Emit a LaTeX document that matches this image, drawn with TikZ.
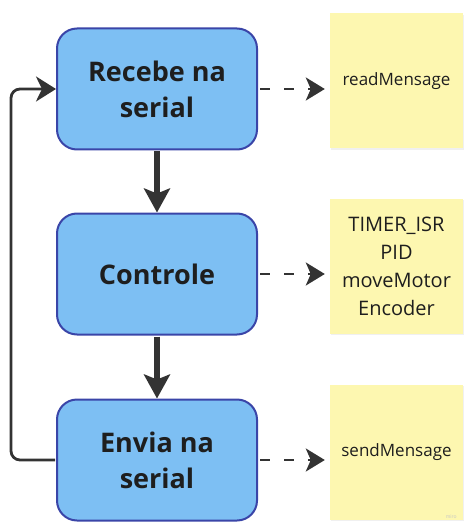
\documentclass[tikz,border=0pt]{standalone}
\usepackage{fontspec}
\setmainfont{Open Sans}
\usetikzlibrary{arrows.meta,shadows}
\definecolor{boxfill}{HTML}{7DBFF3}
\definecolor{boxdraw}{HTML}{3A45A8}
\definecolor{notefill}{HTML}{FDF7B0}
\definecolor{arrowc}{HTML}{333333}
\definecolor{txt}{HTML}{1E1E1E}
\begin{document}
\begin{tikzpicture}[x=1pt,y=-1pt,
  stepbox/.style={draw=boxdraw, fill=boxfill, line width=2pt, rounded corners=20pt,
    minimum width=200pt, minimum height=121pt, align=center, text=txt,
    font=\bfseries\fontsize{27}{36}\selectfont},
  note/.style={fill=notefill, minimum width=133pt, minimum height=135pt, align=center,
    text=txt, drop shadow={opacity=0.12, shadow xshift=0.8pt, shadow yshift=-1.2pt}},
  flow/.style={draw=arrowc, line width=5.5pt, -{Stealth[length=24pt,width=26pt,inset=5pt]}},
  dsh/.style={draw=arrowc, line width=2.8pt, dash pattern=on 10pt off 14pt,
    -{Stealth[length=19pt,width=23pt,inset=5pt]}},
  back/.style={draw=arrowc, line width=2.8pt, rounded corners=9pt,
    -{Stealth[length=20pt,width=25pt,inset=6pt]}}
]
\useasboundingbox (0,0) rectangle (472,529);
\node[stepbox] (b1) at (157,89) {Recebe na\\serial};
\node[stepbox] (b2) at (157,274) {Controle};
\node[stepbox] (b3) at (157,460) {Envia na\\serial};
\node[note, font=\fontsize{17}{24}\selectfont] (n1) at (396.5,81) {readMensage};
\node[note, font=\fontsize{20}{28}\selectfont] (n2) at (396.5,266.5) {TIMER\_ISR\\PID\\moveMotor\\Encoder};
\node[note, font=\fontsize{17}{24}\selectfont] (n3) at (396.5,452.5) {sendMensage};
\node[text=gray!45, font=\fontsize{5}{6}\selectfont, anchor=south east] (wm) at ([xshift=-3pt,yshift=-2pt]n3.south east) {miro};
\draw[flow, shorten <=1pt] (b1.south) -- (b2.north);
\draw[flow, shorten <=1pt] (b2.south) -- (b3.north);
\draw[dsh, shorten <=2pt, shorten >=5pt] (b1.east) -- (b1.east -| n1.west);
\draw[dsh, shorten <=2pt, shorten >=5pt] (b2.east) -- (b2.east -| n2.west);
\draw[dsh, shorten <=2pt, shorten >=5pt] (b3.east) -- (b3.east -| n3.west);
\coordinate (c1) at (11,460);
\draw[back, shorten <=1pt] (b3.west) -- (c1) |- (b1.west);
\end{tikzpicture}
\end{document}
